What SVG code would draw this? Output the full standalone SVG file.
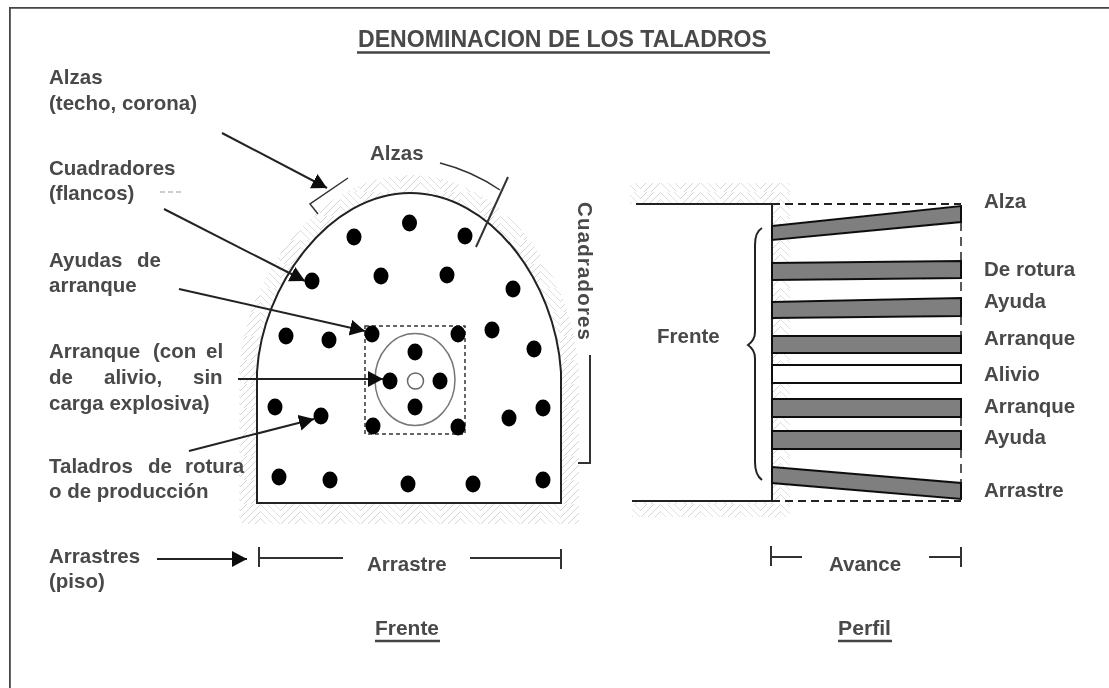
<svg xmlns="http://www.w3.org/2000/svg" width="1109" height="688" viewBox="0 0 1109 688">
<style>
text{font-family:"Liberation Sans",Arial,sans-serif;font-weight:700;font-size:20.5px;fill:#484848}
.l{fill:none;stroke:#222;stroke-width:2}
.t{fill:none;stroke:#333;stroke-width:2}
.a{fill:none;stroke:#222;stroke-width:2;marker-end:url(#ah)}
.d{fill:#000}
.dash{fill:none;stroke:#222;stroke-width:2;stroke-dasharray:8 5}
.bar{fill:#7f7f7f;stroke:#111;stroke-width:2}
.u{stroke:#444;stroke-width:2.5}
.h{fill:url(#hatch)}
</style>
<defs>
<pattern id="hatch" width="40" height="24" patternUnits="userSpaceOnUse">
<path d="M0 7L7 0M0 14L14 0M0 21L20 1M4 24L20 8M11 24L20 15" fill="none" stroke="#d6d6d6" stroke-width="1"/>
<path d="M20 0L40 20M27 0L40 13M34 0L40 6M20 7L37 24M20 14L30 24" fill="none" stroke="#e0e0e0" stroke-width="1"/>
</pattern>
<marker id="ah" markerUnits="userSpaceOnUse" markerWidth="18" markerHeight="18" refX="15" refY="8" orient="auto">
<path d="M0 0L15 8L0 16Z" fill="#111"/>
</marker>
<filter id="soft" x="0" y="0" width="100%" height="100%"><feGaussianBlur stdDeviation="0.4"/></filter>
</defs>
<rect x="0" y="0" width="1109" height="688" fill="#fff"/>
<g filter="url(#soft)">
<path d="M9.5 688V7.5H1109" fill="none" stroke="#444" stroke-width="2.6"/>

<g id="title"><text x="358" y="47" style="font-size:23px" textLength="409" lengthAdjust="spacingAndGlyphs">DENOMINACION DE LOS TALADROS</text><line class="u" x1="357" y1="52.5" x2="770" y2="52.5"/></g>

<g id="frente">
<path d="M257 372C262 285 330 193 410 193C490 193 555 280 561 372V503H257Z" fill="none" stroke="url(#hatch)" stroke-width="36"/>
<path d="M242 503H578V524H242Z" class="h"/>
<path d="M257 372C262 285 330 193 410 193C490 193 555 280 561 372V503H257Z" fill="#fff" stroke="none"/>
<path d="M257 378V503H561V372C555 280 490 193 410 193C330 193 262 285 257 372V378" class="l"/>
<rect x="365" y="326" width="100" height="108" fill="none" stroke="#333" stroke-width="1.5" stroke-dasharray="4 3"/>
<ellipse cx="415" cy="379.5" rx="40" ry="46" fill="none" stroke="#777" stroke-width="1.5"/>
<circle cx="415.5" cy="381" r="8" fill="#fff" stroke="#666" stroke-width="1.5"/>
<g id="taladros" class="d">
<ellipse cx="354" cy="237" rx="7.5" ry="8.5"/><ellipse cx="409.5" cy="223" rx="7.5" ry="8.5"/><ellipse cx="465" cy="236" rx="7.5" ry="8.5"/>
<ellipse cx="312" cy="281" rx="7.5" ry="8.5"/><ellipse cx="381" cy="276" rx="7.5" ry="8.5"/><ellipse cx="447" cy="275" rx="7.5" ry="8.5"/><ellipse cx="513" cy="289" rx="7.5" ry="8.5"/>
<ellipse cx="286" cy="336" rx="7.5" ry="8.5"/><ellipse cx="329" cy="340" rx="7.5" ry="8.5"/><ellipse cx="372" cy="334" rx="7.5" ry="8.5"/><ellipse cx="458" cy="334" rx="7.5" ry="8.5"/><ellipse cx="492" cy="330" rx="7.5" ry="8.5"/><ellipse cx="534" cy="349" rx="7.5" ry="8.5"/>
<ellipse cx="415" cy="352" rx="7.5" ry="8.5"/><ellipse cx="390" cy="381" rx="7.5" ry="8.5"/><ellipse cx="440" cy="381" rx="7.5" ry="8.5"/><ellipse cx="415" cy="407" rx="7.5" ry="8.5"/>
<ellipse cx="275" cy="407" rx="7.5" ry="8.5"/><ellipse cx="321" cy="416" rx="7.5" ry="8.5"/><ellipse cx="373" cy="426" rx="7.5" ry="8.5"/><ellipse cx="458" cy="427" rx="7.5" ry="8.5"/><ellipse cx="509" cy="418" rx="7.5" ry="8.5"/><ellipse cx="543" cy="408" rx="7.5" ry="8.5"/>
<ellipse cx="279" cy="477" rx="7.5" ry="8.5"/><ellipse cx="330" cy="480" rx="7.5" ry="8.5"/><ellipse cx="408" cy="484" rx="7.5" ry="8.5"/><ellipse cx="473" cy="484" rx="7.5" ry="8.5"/><ellipse cx="543" cy="480" rx="7.5" ry="8.5"/>
</g>
<text x="370" y="160">Alzas</text>
<text transform="translate(578 202) rotate(90)" textLength="138" lengthAdjust="spacing">Cuadradores</text>
<text x="367" y="571">Arrastre</text>
<text x="375" y="635" textLength="64" lengthAdjust="spacingAndGlyphs">Frente</text><line class="u" x1="375" y1="641" x2="440" y2="641"/>
</g>

<g id="perfil">
<rect class="h" x="630" y="183" width="160" height="21"/>
<rect class="h" x="632" y="501" width="158" height="16"/>
<rect class="h" x="772" y="204" width="18" height="297"/>
<path class="l" d="M636 204H772V226M772 240V263M772 280V302M772 318V336M772 353V365M772 383V399M772 417V431M772 449V467M772 483V501H632"/>
<path class="dash" d="M772 204H961M772 501H961"/>
<path d="M961 222V298M961 316V336M961 417V431M961 449V483" fill="none" stroke="#222" stroke-width="1.5" stroke-dasharray="9 6"/>
<polygon class="bar" points="772,226 961,206 961,222 772,240"/>
<polygon class="bar" points="772,263 961,261 961,278 772,280"/>
<polygon class="bar" points="772,302 961,298 961,316 772,318"/>
<polygon class="bar" points="772,336 961,336 961,353 772,353"/>
<polygon points="772,365 961,365 961,383 772,383" fill="#fff" stroke="#111" stroke-width="2"/>
<polygon class="bar" points="772,399 961,399 961,417 772,417"/>
<polygon class="bar" points="772,431 961,431 961,449 772,449"/>
<polygon class="bar" points="772,467 961,483 961,499 772,483"/>
<path class="l" d="M762 228Q755 232 755 245V332Q755 340 748 345Q755 350 755 358V462Q755 475 762 480"/>
<text x="657" y="343">Frente</text>
<text x="829" y="571">Avance</text>
<path class="t" d="M771 546V566M771 557H802M929 557H961M961 547V567"/>
<text x="838" y="635" textLength="53" lengthAdjust="spacingAndGlyphs">Perfil</text><line class="u" x1="838" y1="641" x2="892" y2="641"/>
<text x="984" y="208">Alza</text>
<text x="984" y="276">De rotura</text>
<text x="984" y="308">Ayuda</text>
<text x="984" y="345">Arranque</text>
<text x="984" y="381">Alivio</text>
<text x="984" y="413">Arranque</text>
<text x="984" y="444">Ayuda</text>
<text x="984" y="497">Arrastre</text>
</g>

<g id="labels">
<text x="49" y="84">Alzas</text>
<text x="49" y="110">(techo, corona)</text>
<text x="49" y="175">Cuadradores</text>
<text x="49" y="200">(flancos)</text>
<text y="267"><tspan x="49">Ayudas</tspan><tspan x="137">de</tspan></text>
<text x="49" y="292">arranque</text>
<text y="358"><tspan x="49">Arranque</tspan><tspan x="153">(con</tspan><tspan x="206">el</tspan></text>
<text y="384"><tspan x="49">de</tspan><tspan x="104">alivio,</tspan><tspan x="193">sin</tspan></text>
<text x="49" y="410">carga explosiva)</text>
<text y="473"><tspan x="49">Taladros</tspan><tspan x="148">de</tspan><tspan x="185">rotura</tspan></text>
<text x="49" y="498">o de producción</text>
<text x="49" y="563">Arrastres</text>
<text x="49" y="588">(piso)</text>
<path d="M160 192H181" stroke="#999" stroke-width="1" stroke-dasharray="5 3"/>
</g>

<g id="connectors">
<line class="a" x1="222" y1="133" x2="327" y2="188"/>
<line class="a" x1="164" y1="209" x2="305" y2="281"/>
<line class="a" x1="179" y1="289" x2="365" y2="331"/>
<line class="a" x1="238" y1="379" x2="383" y2="379"/>
<line class="a" x1="189" y1="451" x2="314" y2="419"/>
<line class="a" x1="157" y1="559" x2="247" y2="559"/>
<path class="t" d="M348 178L310 204L318 214" style="stroke-width:1.5"/>
<path class="t" d="M440 163Q472 171 500 190" style="stroke-width:1.5"/>
<path class="t" d="M508 177L476 247"/>
<path class="t" d="M590 355V463H578"/>
<path class="t" d="M259 547V567M259 558H343M470 558H560M561 549V569"/>
</g>
</g>
</svg>
